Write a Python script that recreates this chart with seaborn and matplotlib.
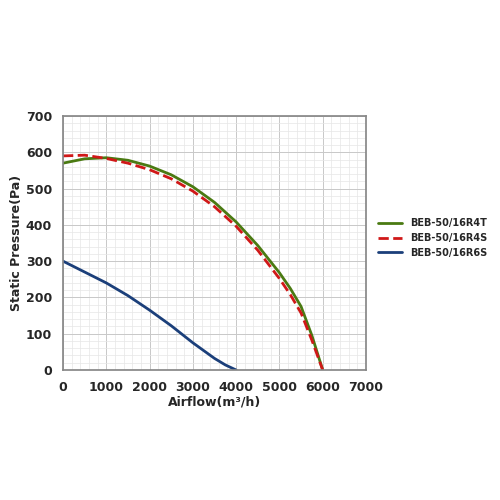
import matplotlib
matplotlib.use("Agg")
import matplotlib.pyplot as plt
import seaborn as sns
from matplotlib.ticker import MultipleLocator

flow = [0, 500, 1000, 1500, 2000, 2500, 3000, 3500, 4000, 4500, 5000, 5250, 5500, 5750, 6000]
r4t = [570, 582, 585, 578, 562, 538, 505, 462, 408, 343, 268, 225, 175, 95, 0]
r4s = [590, 592, 583, 570, 552, 527, 493, 450, 396, 330, 252, 208, 157, 82, 0]
flow6 = [0, 500, 1000, 1500, 2000, 2500, 3000, 3500, 3750, 4000]
r6s = [300, 270, 240, 205, 165, 122, 75, 32, 14, 0]

sns.set_theme(style="white")
fig = plt.figure(figsize=(5, 5), dpi=100)
ax = fig.add_axes([0.126, 0.26, 0.606, 0.508])
ax.xaxis.set_minor_locator(MultipleLocator(200))
ax.yaxis.set_minor_locator(MultipleLocator(20))
ax.grid(which="minor", color="#e6e6e6", lw=0.5)
ax.grid(which="major", color="#c8c8c8", lw=0.7)
ax.set_axisbelow(True)

sns.lineplot(x=flow, y=r4t, ax=ax, color="#4a7a12", lw=2, label="BEB-50/16R4T")
sns.lineplot(x=flow, y=r4s, ax=ax, color="#d01818", lw=2, ls="--", label="BEB-50/16R4S")
sns.lineplot(x=flow6, y=r6s, ax=ax, color="#1b3f7a", lw=2, label="BEB-50/16R6S")

ax.set_xlim(0, 7000)
ax.set_ylim(0, 700)
ax.xaxis.set_major_locator(MultipleLocator(1000))
ax.yaxis.set_major_locator(MultipleLocator(100))
ax.tick_params(labelsize=9, pad=2)
for lab in ax.get_xticklabels() + ax.get_yticklabels():
    lab.set_fontweight("bold")
ax.set_xlabel("Airflow(m³/h)", fontsize=9, fontweight="bold", labelpad=1)
ax.set_ylabel("Static Pressure(Pa)", fontsize=9, fontweight="bold", labelpad=2)
for s in ax.spines.values():
    s.set_color("#888888")
ax.legend(loc="center left", bbox_to_anchor=(1.01, 0.52), frameon=False,
          prop={"weight": "bold", "size": 7}, handlelength=2.5)
fig.savefig("out.png", dpi=100)
